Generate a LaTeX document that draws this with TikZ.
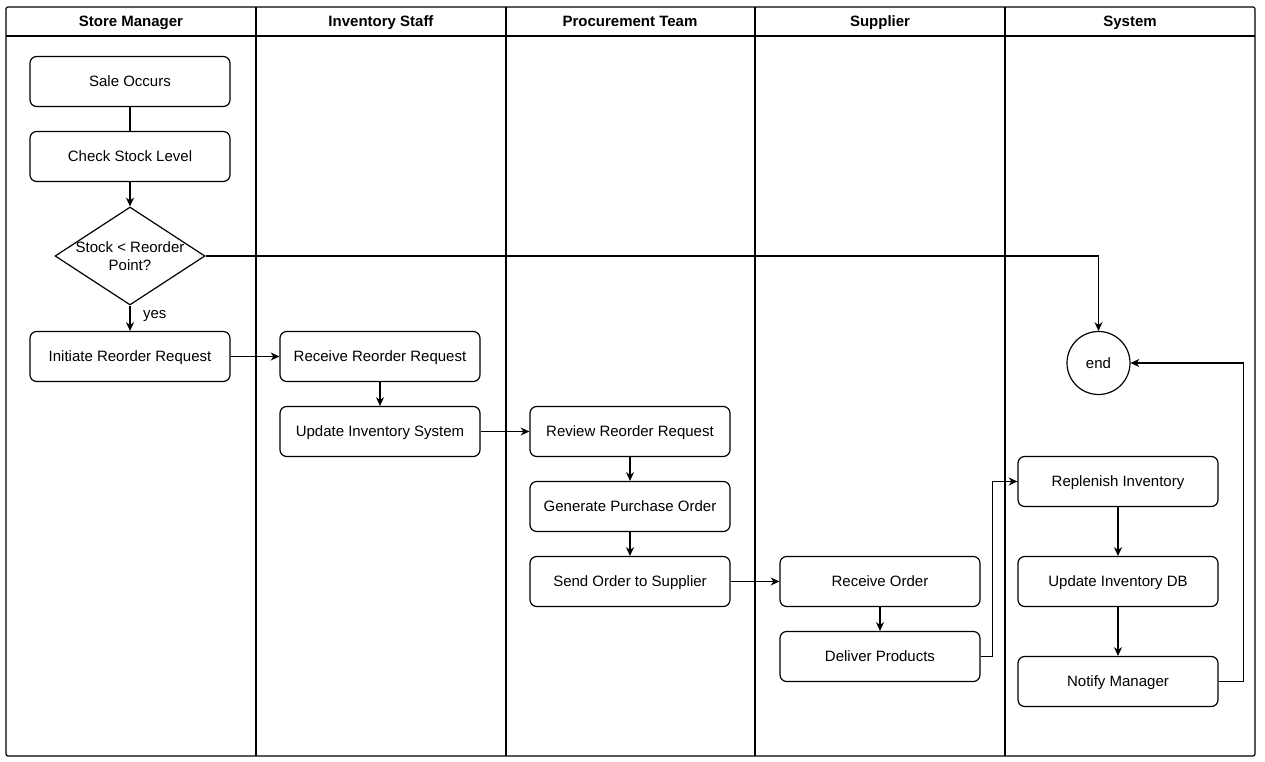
\documentclass[tikz,border=0pt]{standalone}
\usepackage{fontspec}
\setmainfont{Liberation Sans}
\usetikzlibrary{shapes,arrows.meta,positioning,calc}

\begin{document}
\begin{tikzpicture}[x=0.75pt,y=-0.75pt,line width=0.9pt,
  font=\fontsize{11.25}{13.5}\selectfont,
  task/.style={draw,rounded corners=5pt,fill=white,minimum width=150pt,minimum height=37.5pt,inner sep=0pt,text height=10.4pt,text depth=2.3pt},
  decision/.style={draw,diamond,fill=white,minimum width=112.5pt,minimum height=73.5pt,inner sep=0pt},
  endstate/.style={draw,circle,fill=white,minimum size=47.25pt,inner sep=0pt},
  lanehead/.style={font=\fontsize{11.25}{13.5}\selectfont\bfseries,text height=10.4pt,text depth=2.3pt},
  flow/.style={-{Stealth[length=6.5pt,width=6pt,inset=2pt]}}]

\useasboundingbox (0,0) rectangle (1265,762);

% lanes
\draw [rounded corners=1.5pt] (6,7) rectangle (1255,756);
\draw (6,36) -- (1255,36);
\foreach \x in {256,506,755,1005}
  \draw (\x,7) -- (\x,756);
\node [lanehead] (hmanager) at (131,21.5) {Store Manager};
\node [lanehead] (hstaff) at (381,21.5) {Inventory Staff};
\node [lanehead] (hprocure) at (630,21.5) {Procurement Team};
\node [lanehead] (hsupplier) at (880,21.5) {Supplier};
\node [lanehead] (hsystem) at (1130,21.5) {System};

% store manager
\node [task] (sale) at (130,81.5) {Sale Occurs};
\node [task] (check) at (130,156.5) {Check Stock Level};
\node [decision] (dec) at (130,256) {};
\node [align=center] (dectext) at (130,256) {Stock < Reorder\\Point?};
\node [task] (initiate) at (130,356.5) {Initiate Reorder Request};

% inventory staff
\node [task] (receive) at (380,356.5) {Receive Reorder Request};
\node [task] (updsys) at (380,431.5) {Update Inventory System};

% procurement team
\node [task] (review) at (630,431.5) {Review Reorder Request};
\node [task] (genpo) at (630,506.5) {Generate Purchase Order};
\node [task] (send) at (630,581.5) {Send Order to Supplier};

% supplier
\node [task] (recorder) at (880,581.5) {Receive Order};
\node [task] (deliver) at (880,656.5) {Deliver Products};

% system
\node [endstate] (end) at (1098.5,363) {end};
\node [task] (replenish) at (1118,481.5) {Replenish Inventory};
\node [task] (upddb) at (1118,581.5) {Update Inventory DB};
\node [task] (notify) at (1118,681.5) {Notify Manager};

% flows
\draw (sale) -- (check);
\draw [flow] (check) -- (dec);
\draw [flow] (dec) -- node [anchor=west,pos=0.4,xshift=6pt] {yes} (initiate);
\draw [flow] (dec.east) -| (end.north);
\draw [flow] (initiate) -- (receive);
\draw [flow] (receive) -- (updsys);
\draw [flow] (updsys) -- (review);
\draw [flow] (review) -- (genpo);
\draw [flow] (genpo) -- (send);
\draw [flow] (send) -- (recorder);
\draw [flow] (recorder) -- (deliver);
\draw [flow] (deliver.east) -- ++(12,0) |- (replenish.west);
\draw [flow] (replenish) -- (upddb);
\draw [flow] (upddb) -- (notify);
\draw [flow] (notify.east) -- ++(25,0) |- (end.east);

\end{tikzpicture}
\end{document}
